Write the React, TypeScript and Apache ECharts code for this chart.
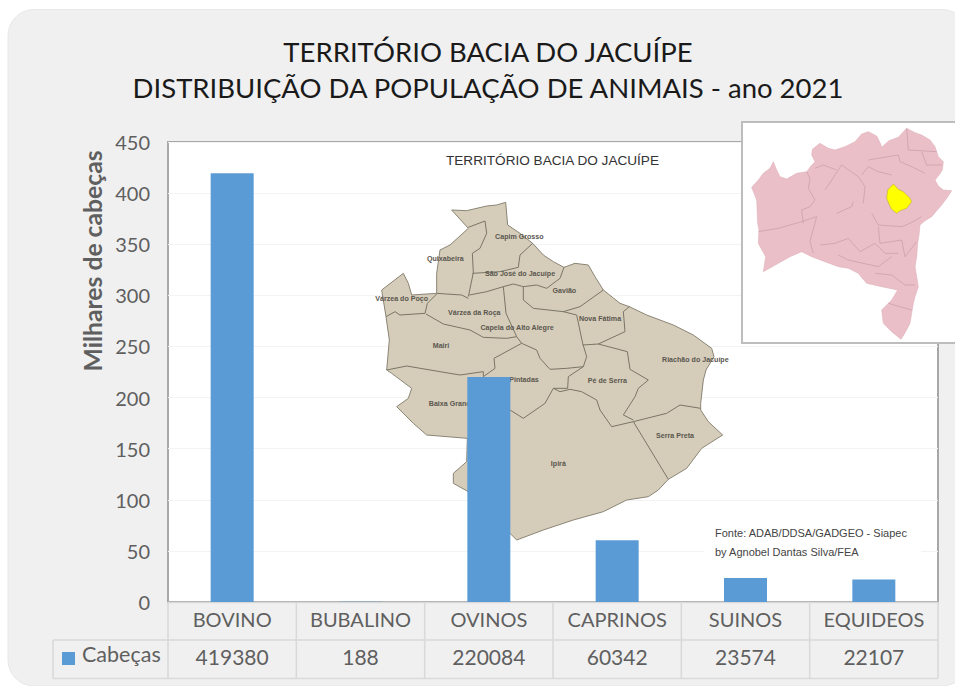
import React, { useEffect, useRef } from "react";
import * as echarts from "echarts";

const titleLines = ["TERRITÓRIO BACIA DO JACUÍPE", "DISTRIBUIÇÃO DA POPULAÇÃO DE ANIMAIS - ano 2021"];
const categories = ["BOVINO", "BUBALINO", "OVINOS", "CAPRINOS", "SUINOS", "EQUIDEOS"];
const cabecas = [419380, 188, 220084, 60342, 23574, 22107];
const seriesName = "Cabeças";
const yTitle = "Milhares de cabeças";
const mapTitle = "TERRITÓRIO BACIA DO JACUÍPE";
const sourceLines = ["Fonte: ADAB/DDSA/GADGEO - Siapec", "by Agnobel Dantas Silva/FEA"];

type P = [number, number];
// Territory map drawing, traced in a 3x crop whose origin is (340,140)
const territoryOutline: P[] = [[335,210],[380,212],[440,198],[470,195],[497,187],[503,255],[540,280],[578,310],[610,345],[640,365],[672,382],[705,370],[745,375],[765,410],[790,450],[840,490],[868,500],[920,525],[1000,555],[1060,585],[1115,625],[1122,650],[1098,690],[1090,720],[1082,790],[1082,810],[1105,845],[1148,885],[1085,925],[1040,985],[985,1018],[955,1050],[925,1070],[860,1080],[790,1115],[700,1140],[610,1170],[530,1200],[500,1170],[430,1080],[340,1030],[340,1000],[380,965],[382,895],[260,885],[220,850],[170,800],[205,775],[215,745],[155,700],[140,690],[148,600],[138,530],[125,450],[190,400],[205,430],[215,465],[290,460],[290,400],[300,330],[330,315],[385,265]];
const territoryBorders: P[][] = [
  [[385,262],[435,243],[440,280],[420,325],[397,340],[400,398],[385,470]],
  [[290,460],[320,462],[365,465],[385,475]],
  [[397,400],[480,395],[535,382],[540,345],[578,310]],
  [[388,465],[440,455],[490,440],[520,432],[550,440],[590,435],[620,445],[660,415],[672,382]],
  [[550,440],[550,480],[580,505],[670,515],[720,500],[790,450]],
  [[138,530],[165,515],[180,525],[255,520],[262,490],[290,462]],
  [[258,522],[310,552],[390,570],[430,592],[500,595],[530,590]],
  [[490,440],[498,520],[530,590],[545,610],[590,630],[600,655],[630,688],[680,685],[730,680],[740,650],[728,610],[710,525],[670,515]],
  [[728,615],[775,612],[855,575],[850,515],[868,500]],
  [[775,612],[862,635],[870,688],[925,720],[895,745],[885,770],[850,825],[880,840]],
  [[140,690],[200,678],[300,695],[360,705],[430,695],[430,710],[465,685],[462,655],[545,610]],
  [[730,680],[685,710],[683,745],[640,745],[615,790],[550,835],[510,810]],
  [[640,745],[660,755],[690,748],[725,755],[770,780],[780,810],[815,860]],
  [[815,860],[880,845],[980,820],[1020,795],[1082,805]],
  [[880,845],[985,1018]],
];
const territoryLabels: [string, number, number][] = [
  ["Capim Grosso",538,292],["Quixabeira",316,356],["São José do Jacuípe",540,402],["Várzea do Poço",185,477],["Gavião",673,453],
  ["Várzea da Roça",403,519],["Capela do Alto Alegre",531,564],["Nova Fátima",780,536],["Mairi",303,618],["Riachão do Jacuípe",1066,659],
  ["Pintadas",552,720],["Pé de Serra",802,722],["Baixa Grande",335,791],["Serra Preta",1005,887],["Ipirá",655,973],
];
// Bahia state inset, traced in a 3x crop whose origin is (735,110)
const bahiaOutline: P[] = [[50,232],[70,210],[85,190],[105,175],[115,155],[125,180],[135,200],[155,207],[185,190],[215,185],[228,168],[240,155],[230,135],[232,118],[255,100],[280,115],[300,120],[330,110],[360,95],[380,72],[400,65],[425,78],[436,100],[440,112],[462,92],[490,82],[515,55],[540,68],[560,75],[585,90],[600,110],[610,140],[625,155],[622,180],[612,195],[600,210],[610,228],[625,240],[650,242],[635,265],[620,285],[605,302],[590,320],[570,332],[555,345],[552,375],[548,400],[545,440],[540,470],[545,500],[550,530],[540,560],[535,580],[530,610],[525,640],[512,665],[498,688],[470,665],[445,640],[440,600],[458,582],[470,570],[488,540],[440,530],[395,520],[378,500],[370,490],[340,475],[310,470],[270,455],[230,440],[200,425],[165,440],[130,460],[85,485],[92,440],[78,415],[70,400],[72,360],[68,340],[65,270]];
const bahiaHighlight: P[] = [[475,222],[490,238],[505,245],[525,265],[530,275],[515,295],[495,302],[485,310],[470,298],[462,282],[455,265],[458,240]];
const bahiaBorders: P[][] = [
  [[215,185],[225,205],[220,235],[240,270],[225,290],[200,300],[205,340]],
  [[70,365],[130,355],[200,335],[245,320],[230,375],[225,395],[235,430]],
  [[305,310],[350,290],[355,275]],
  [[270,240],[320,165],[370,200],[390,230],[385,280]],
  [[240,175],[265,165],[305,180]],
  [[400,150],[490,135],[495,155],[530,170],[570,190]],
  [[380,195],[400,170],[430,185],[470,195]],
  [[410,310],[430,345],[500,350],[525,340],[560,320]],
  [[430,350],[435,400],[500,390],[510,440],[545,395]],
  [[255,405],[300,400],[340,385],[375,425],[420,400],[450,430],[490,430]],
  [[310,435],[340,450],[430,470],[470,440]],
  [[420,490],[470,495],[510,525],[540,525]],
  [[460,580],[530,600]],
  [[515,55],[520,120],[605,125]],
  [[560,125],[575,165],[620,165]],
];

const FONT = "Lato, 'Open Sans', sans-serif";
const MAPFONT = "'Liberation Sans', Arial, sans-serif";
const GREY = "#5f5f5f";
const GRID = { left: 168, top: 142, right: 938, bottom: 602 };
const TABLE_LINE = "#d9d9d9";

const toTerritory = (p: P): P => [340 + p[0] / 3, 140 + p[1] / 3];
const toBahia = (p: P): P => [735 + p[0] / 3, 110 + p[1] / 3];

export default function App() {
  const ref = useRef<HTMLDivElement>(null);
  useEffect(() => {
    const chart = echarts.init(ref.current!, undefined, { renderer: "svg" });
    const colW = (GRID.right - GRID.left) / categories.length;
    const tableLines: any[] = [];
    const hline = (x1: number, x2: number, y: number) => tableLines.push({ type: "line", z: 1, shape: { x1, y1: y, x2, y2: y }, style: { stroke: TABLE_LINE, lineWidth: 1.5 } });
    const vline = (x: number, y1: number, y2: number) => tableLines.push({ type: "line", z: 1, shape: { x1: x, y1, x2: x, y2 }, style: { stroke: TABLE_LINE, lineWidth: 1.5 } });
    hline(GRID.left, GRID.right, 602.5);
    hline(53, GRID.right, 640);
    hline(53, GRID.right, 678.5);
    vline(53, 640, 678.5);
    categories.forEach((_, i) => vline(GRID.left + colW * i, 602, 678.5));
    vline(GRID.right, 602, 678.5);

    chart.setOption({
      animation: false,
      backgroundColor: "#ffffff",
      title: {
        text: titleLines.join("\n"),
        left: 483,
        top: 28,
        textAlign: "center",
        textStyle: { fontFamily: FONT, fontSize: 27.5, fontWeight: "normal", color: "#1a1a1a", lineHeight: 36 },
      },
      legend: {
        left: 62,
        top: 642,
        padding: 0,
        itemWidth: 13,
        itemHeight: 23,
        itemGap: 0,
        icon: "path://M0 0h0v0zM0 10h13v13H0z",
        itemStyle: { color: "#5b9bd5" },
        textStyle: { fontFamily: FONT, fontSize: 21.5, color: GREY, padding: [0, 0, 0, 2] },
      },
      grid: {
        left: GRID.left,
        top: GRID.top,
        width: GRID.right - GRID.left,
        height: GRID.bottom - GRID.top,
        show: true,
        backgroundColor: "#ffffff",
        borderColor: "#a8a8a8",
        borderWidth: 2,
      },
      xAxis: [
        {
          type: "category",
          data: categories,
          axisLine: { show: false },
          axisTick: { show: false },
          axisLabel: { fontFamily: FONT, fontSize: 20, color: GREY, margin: 7, interval: 0 },
        },
        {
          type: "category",
          position: "bottom",
          offset: 37,
          data: cabecas.map(String),
          axisLine: { show: false },
          axisTick: { show: false },
          axisLabel: { fontFamily: FONT, fontSize: 21, color: GREY, margin: 7, interval: 0 },
        },
      ],
      yAxis: {
        type: "value",
        min: 0,
        max: 450,
        interval: 50,
        axisLine: { show: false },
        axisTick: { show: false },
        axisLabel: { fontFamily: FONT, fontSize: 20, color: GREY, margin: 18 },
        splitLine: { lineStyle: { color: "#f3f3f3", width: 1 } },
      },
      series: [
        {
          type: "bar",
          name: seriesName,
          barWidth: 43,
          z: 5,
          itemStyle: { color: "#5b9bd5" },
          data: cabecas.map((v) => v / 1000),
        },
      ],
      graphic: [
        { type: "rect", z: -10, silent: true, shape: { x: 8, y: 9.5, width: 960, height: 676.5, r: 26 }, style: { fill: "#f0f0f0", stroke: "#e8e8e8", lineWidth: 1 } },
        ...tableLines,
        { type: "text", rotation: Math.PI / 2, x: 92, y: 261, z: 1, style: { text: yTitle, fontFamily: FONT, fontSize: 24.7, fontWeight: "bold", fill: GREY, align: "center", verticalAlign: "middle" } },
        { type: "polygon", z: 1, silent: true, shape: { points: territoryOutline.map(toTerritory) }, style: { fill: "#d5cdb9", stroke: "#8b8576", lineWidth: 1 } },
        ...territoryBorders.map((b) => ({ type: "polyline", z: 1, silent: true, shape: { points: b.map(toTerritory) }, style: { fill: "none", stroke: "#7b7567", lineWidth: 1 } })),
        ...territoryLabels.map(([t, x, y]) => {
          const [px, py] = toTerritory([x, y]);
          return { type: "text", z: 2, x: px, y: py, style: { text: t, fontFamily: MAPFONT, fontSize: 7.1, fontWeight: "bold", fill: "#5a564f", align: "center", verticalAlign: "middle" } };
        }),
        { type: "text", z: 2, x: 552.5, y: 160, style: { text: mapTitle, fontFamily: MAPFONT, fontSize: 13.6, fill: "#333333", align: "center", verticalAlign: "middle" } },
        { type: "rect", z: 1, silent: true, shape: { x: 704, y: 514, width: 217, height: 50 }, style: { fill: "#ffffff" } },
        { type: "text", z: 2, x: 715, y: 533, style: { text: sourceLines[0], fontFamily: MAPFONT, fontSize: 11, fill: "#444444", align: "left", verticalAlign: "middle" } },
        { type: "text", z: 2, x: 715, y: 552, style: { text: sourceLines[1], fontFamily: MAPFONT, fontSize: 11, fill: "#444444", align: "left", verticalAlign: "middle" } },
        { type: "rect", z: 8, silent: true, shape: { x: 742, y: 122, width: 230, height: 221 }, style: { fill: "#ffffff", stroke: "#bdbdbd", lineWidth: 2 } },
        { type: "polygon", z: 9, silent: true, shape: { points: bahiaOutline.map(toBahia) }, style: { fill: "#ebbfc8", stroke: "#dba9b4", lineWidth: 0.5 } },
        ...bahiaBorders.map((b) => ({ type: "polyline", z: 9, silent: true, shape: { points: b.map(toBahia) }, style: { fill: "none", stroke: "#b88f9a", lineWidth: 0.5 } })),
        { type: "polygon", z: 10, silent: true, shape: { points: bahiaHighlight.map(toBahia) }, style: { fill: "#ffff00", stroke: "#b8a020", lineWidth: 0.5 } },
      ],
    });
    return () => chart.dispose();
  }, []);
  return <div ref={ref} style={{ position: "fixed", left: 0, top: 0, width: 955, height: 686 }} />;
}
